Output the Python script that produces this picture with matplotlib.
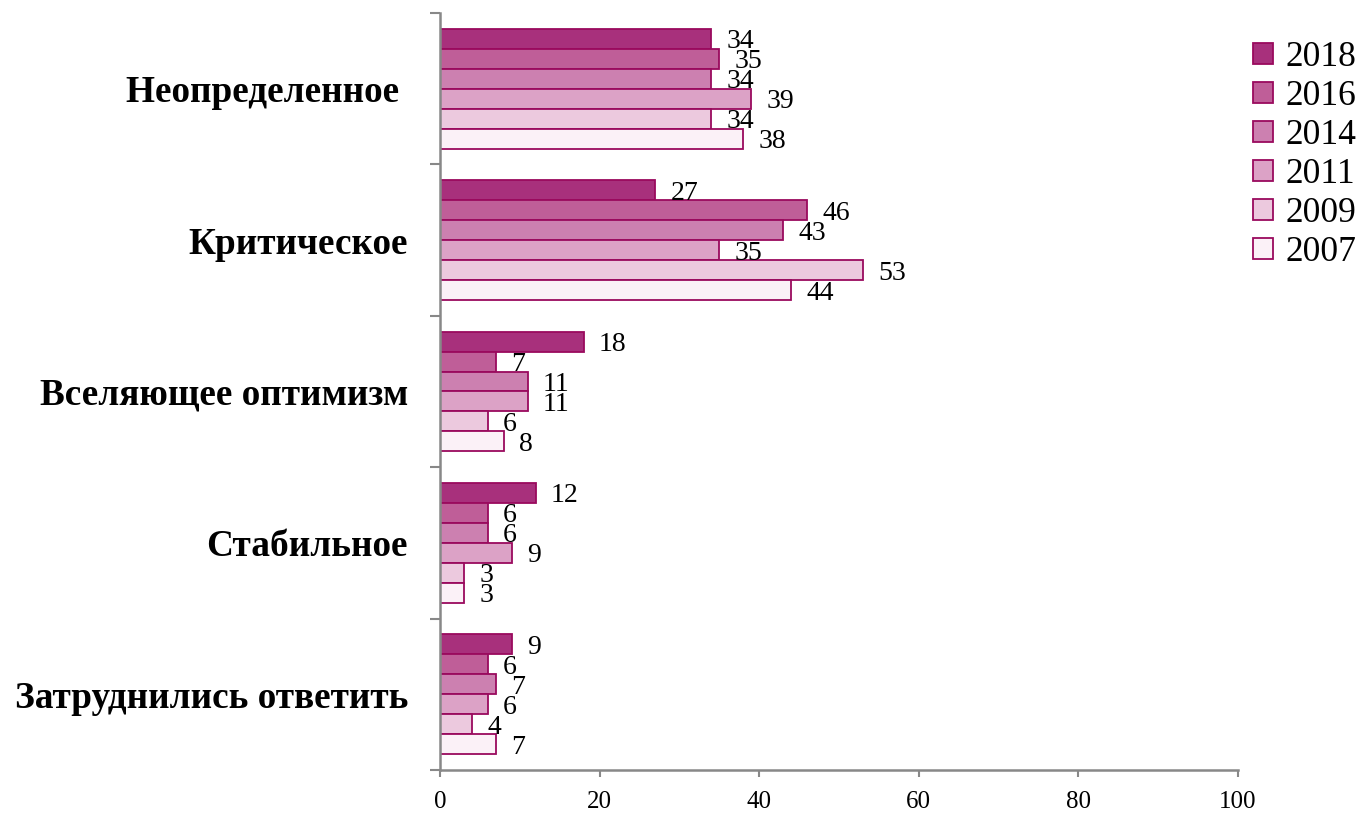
import matplotlib
matplotlib.use("Agg")
import matplotlib.pyplot as plt
import numpy as np

categories = ["Неопределенное ", "Критическое", "Вселяющее оптимизм", "Стабильное", "Затруднились ответить"]
years = ["2018", "2016", "2014", "2011", "2009", "2007"]
v2018 = [34, 27, 18, 12, 9]
v2016 = [35, 46, 7, 6, 6]
v2014 = [34, 43, 11, 6, 7]
v2011 = [39, 35, 11, 9, 6]
v2009 = [34, 53, 6, 3, 4]
v2007 = [38, 44, 8, 3, 7]
series = [v2018, v2016, v2014, v2011, v2009, v2007]
colors = ["#a8307c", "#bf5e98", "#cc80b0", "#dca2c6", "#ecc9de", "#fbf1f7"]
edge = "#9a0a5e"

plt.rcParams['font.family'] = ['Liberation Serif', 'DejaVu Serif']

fig = plt.figure(figsize=(13.63, 8.14), dpi=100)
ax = fig.add_axes([440/1363, 1-770/814, (1238-440)/1363, (770-13)/814])

h = 0.132
y = np.arange(len(categories))
for i, (yr, vals, c) in enumerate(zip(years, series, colors)):
    pos = y + (i - 2.5) * h
    ax.barh(pos, vals, height=h, color=c, edgecolor=edge, linewidth=1.3, label=yr)
    for p, v in zip(pos, vals):
        ax.text(v + 1.9, p + 0.02, str(v), va="center", ha="left", fontsize=20, color="black")

ax.set_xlim(0, 100)
ax.set_ylim(4.5, -0.5)
ax.set_xticks([0, 20, 40, 60, 80, 100])
ax.tick_params(axis='x', labelsize=18, length=5, width=1.5, color="#888888", pad=10)
ax.set_yticks(np.arange(-0.5, 5, 1))
ax.set_yticklabels([])
ax.tick_params(axis='y', which='major', length=7, width=1.5, color="#888888")
ax.set_yticks(y, minor=True)
ax.set_yticklabels(categories, minor=True, fontsize=26.8, fontweight='bold')
ax.tick_params(axis='y', which='minor', length=0, pad=23)
for s in ["top", "right"]:
    ax.spines[s].set_visible(False)
for s in ["left", "bottom"]:
    ax.spines[s].set_color("#888888")
    ax.spines[s].set_linewidth(1.8)

leg = fig.legend(loc="upper left", bbox_to_anchor=(1239/1363, 1-27/814), frameon=False,
                 fontsize=25.5, handlelength=0.55, handleheight=0.55, handletextpad=0.35,
                 labelspacing=0.17, borderaxespad=0)

fig.savefig("out.png", dpi=100)
